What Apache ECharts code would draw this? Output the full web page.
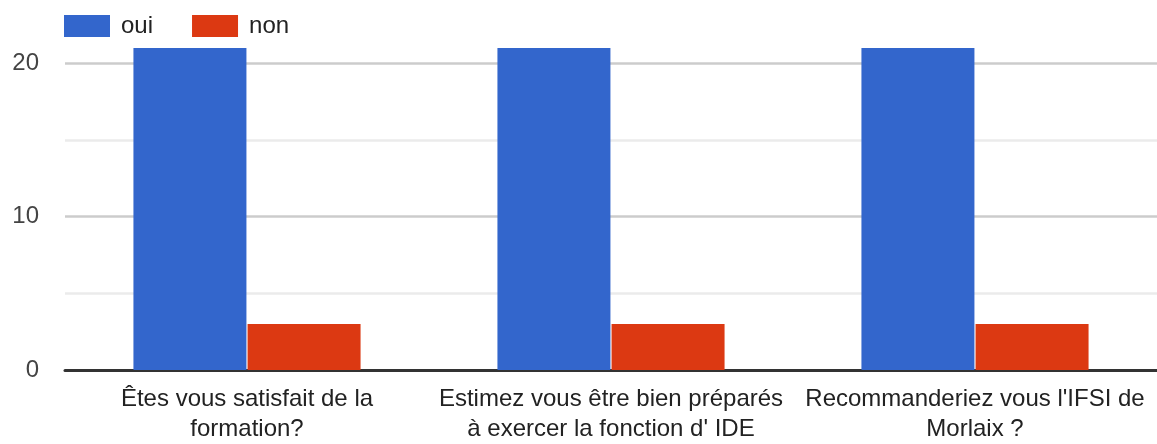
<!DOCTYPE html>
<html><head><meta charset="utf-8">
<script src="https://cdn.jsdelivr.net/npm/echarts@6/dist/echarts.min.js"></script>
<style>html,body{margin:0;padding:0;background:#fff;overflow:hidden}#c{width:1157px;height:444px}</style>
</head><body><div id="c"></div>
<script>
const categories = ["Êtes vous satisfait de la\nformation?", "Estimez vous être bien préparés\nà exercer la fonction d' IDE", "Recommanderiez vous l'IFSI de\nMorlaix ?"];
const seriesNames = ["oui", "non"];
const ouiValues = [21, 21, 21];
const nonValues = [3, 3, 3];
const yTickLabels = ["0", "10", "20"];

const FONT = 'Liberation Sans, Arial, sans-serif';
const chart = echarts.init(document.getElementById('c'));
chart.setOption({
  animation: false,
  textStyle: {fontFamily: FONT},
  color: ['#3366cc', '#dc3912'],
  legend: {
    left: 64, top: 14, itemWidth: 46, itemHeight: 22, itemGap: 39,
    icon: 'rect', padding: 0,
    textStyle: {fontSize: 24, color: '#222', fontFamily: FONT, padding: [0,0,0,6]},
    data: seriesNames
  },
  grid: {left: 65, top: 48, width: 1101, height: 327, containLabel: false},
  xAxis: {
    type: 'category', data: categories,
    axisLine: {lineStyle: {color: '#333', width: 3}},
    axisTick: {show: false},
    axisLabel: {fontSize: 24, color: '#222', lineHeight: 30, margin: 14, interval: 0}
  },
  yAxis: {
    type: 'value', min: 0, max: 21, interval: 5,
    axisLine: {show: false}, axisTick: {show: false},
    axisLabel: {fontSize: 24, color: '#444', margin: 26,
      formatter: v => yTickLabels.includes(String(v)) ? String(v) : ''},
    splitLine: {lineStyle: {width: 2.5, color: ['#cccccc', '#ebebeb', '#cccccc', '#ebebeb', '#cccccc', 'rgba(0,0,0,0)']}}
  },
  series: [
    {name: seriesNames[0], type: 'bar', data: ouiValues, barWidth: 113, barGap: '1%'},
    {name: seriesNames[1], type: 'bar', data: nonValues, barWidth: 113, barGap: '1%'}
  ]
});
</script></body></html>
